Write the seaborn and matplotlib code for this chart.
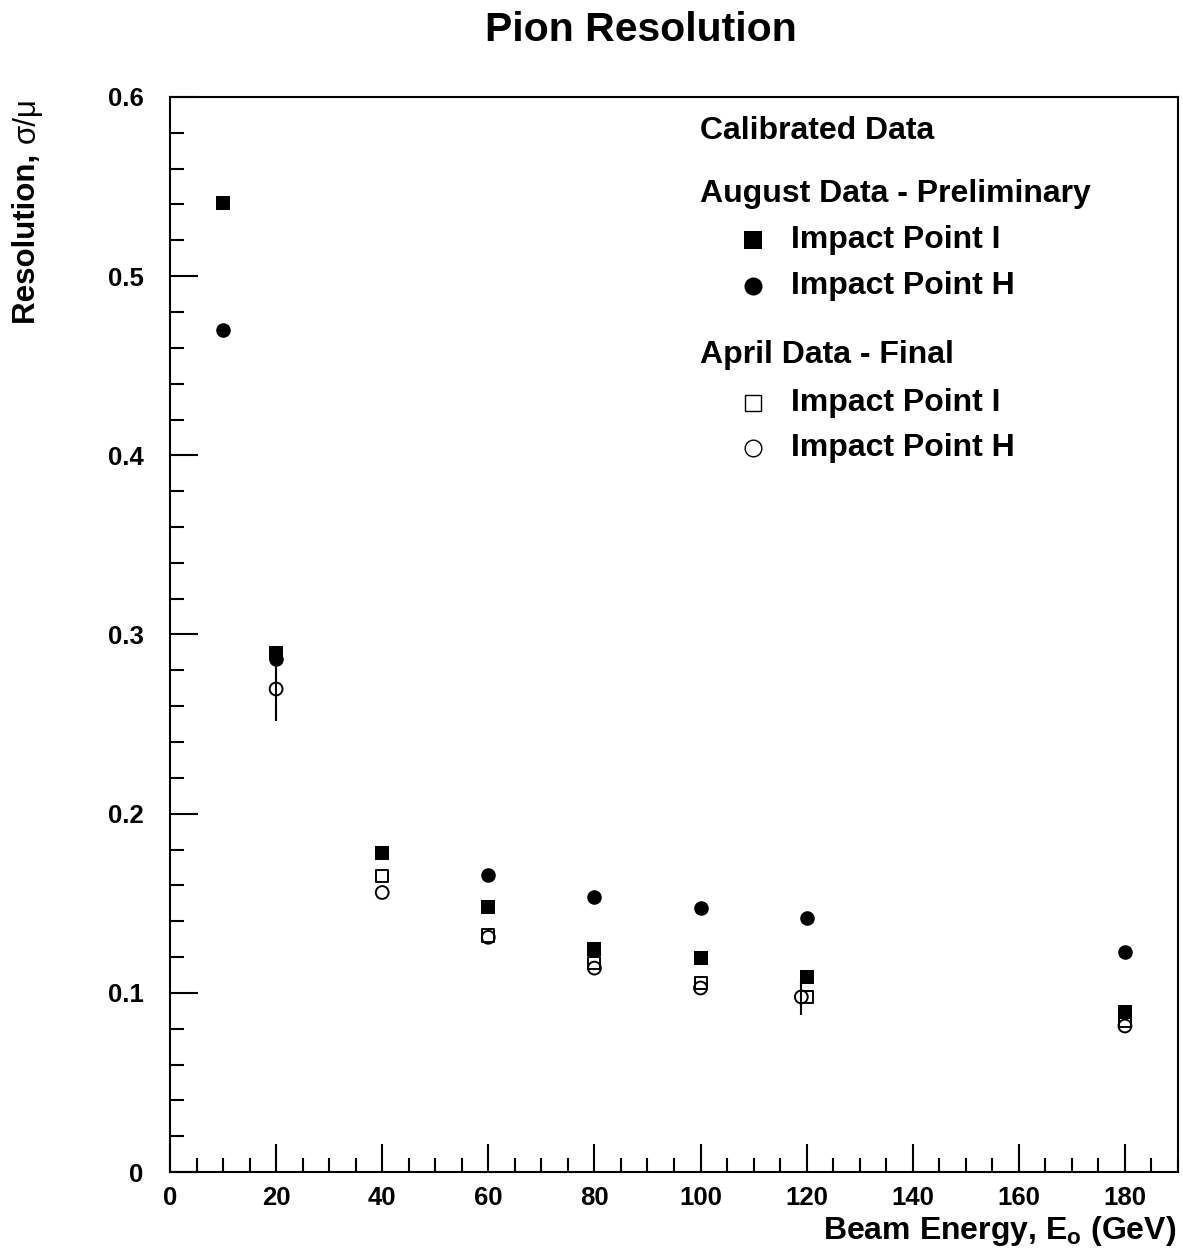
import numpy as np
import pandas as pd
import seaborn as sns
import matplotlib
matplotlib.use("Agg")
import matplotlib.pyplot as plt
from matplotlib.ticker import MultipleLocator, FuncFormatter

# ---------------- data ----------------
aug_I_energy = [10, 20, 40, 60, 80, 100, 120, 180]
aug_I_res = [0.541, 0.2895, 0.178, 0.148, 0.1245, 0.1194, 0.109, 0.0895]

aug_H_energy = [10, 20, 60, 80, 100, 120, 180]
aug_H_res = [0.470, 0.2863, 0.166, 0.1535, 0.1473, 0.1418, 0.1228]

apr_I_energy = [40, 60, 80, 100, 120, 180]
apr_I_res = [0.165, 0.132, 0.1166, 0.1055, 0.0977, 0.0845]

apr_H_energy = [20, 40, 60, 80, 100, 119, 180]
apr_H_res = [0.2696, 0.156, 0.131, 0.1138, 0.1027, 0.0977, 0.0815]
apr_H_err = [0.018, 0.0, 0.0, 0.0, 0.0, 0.010, 0.0]

title = "Pion Resolution"
x_label = r"Beam Energy, E$_\mathregular{o}$ (GeV)"
legend_headers = ["Calibrated Data", "August Data - Preliminary", "April Data - Final"]
legend_items = ["Impact Point I", "Impact Point H"]

# ---------------- style ----------------
sns.set_theme(style="ticks")
plt.rcParams.update({
    "font.family": ["Liberation Sans", "DejaVu Sans"],
    "font.weight": "bold",
    "text.color": "black",
    "mathtext.fontset": "custom",
    "mathtext.rm": "Liberation Sans:bold",
    "mathtext.bf": "Liberation Sans:bold",
    "mathtext.it": "Liberation Sans:bold",
    "axes.linewidth": 1.5,
    "axes.edgecolor": "black",
    "axes.labelcolor": "black",
    "xtick.color": "black",
    "ytick.color": "black",
    "xtick.labelcolor": "black",
    "ytick.labelcolor": "black",
})

W, H = 1183, 1258
fig = plt.figure(figsize=(W / 100, H / 100), dpi=100)
fig.patch.set_facecolor("white")

def fx(px):
    return px / W

def fy(py):
    return 1 - py / H

ax = fig.add_axes([fx(170), fy(1172), fx(1178) - fx(170), fy(97) - fy(1172)])
ax.set_facecolor("white")

# ---------------- marks ----------------
ax.errorbar(apr_H_energy, apr_H_res, yerr=apr_H_err, fmt="none",
            ecolor="black", elinewidth=1.5, capsize=0, zorder=2)

sns.scatterplot(x=aug_H_energy, y=aug_H_res, marker="o", s=110, color="black",
                edgecolor="black", linewidth=0, legend=False, ax=ax, zorder=3)
sns.scatterplot(x=aug_I_energy, y=aug_I_res, marker="s", s=100, color="black",
                edgecolor="black", linewidth=0, legend=False, ax=ax, zorder=3)
sns.scatterplot(x=apr_I_energy, y=apr_I_res, marker="s", s=75, color="black",
                facecolor="none", edgecolor="black", linewidth=1.4, legend=False,
                ax=ax, zorder=4)
sns.scatterplot(x=apr_H_energy, y=apr_H_res, marker="o", s=85, color="black",
                facecolor="none", edgecolor="black", linewidth=1.4, legend=False,
                ax=ax, zorder=4)

# ---------------- axes ----------------
ax.set_xlim(0, 190)
ax.set_ylim(0, 0.6)
ax.xaxis.set_major_locator(MultipleLocator(20))
ax.xaxis.set_minor_locator(MultipleLocator(5))
ax.yaxis.set_major_locator(MultipleLocator(0.1))
ax.yaxis.set_minor_locator(MultipleLocator(0.02))
ax.yaxis.set_major_formatter(FuncFormatter(lambda v, p: "0" if abs(v) < 1e-9 else f"{v:.1f}"))
ax.xaxis.set_major_formatter(FuncFormatter(lambda v, p: f"{v:.0f}"))
ax.tick_params(which="both", direction="in", top=False, right=False, width=1.5,
               colors="black", labelsize=18.5)
ax.tick_params(which="major", length=20)
ax.tick_params(which="minor", length=10)
ax.tick_params(axis="y", which="major", pad=19)
ax.tick_params(axis="x", which="major", pad=10)
for lab in ax.get_xticklabels() + ax.get_yticklabels():
    lab.set_fontweight("bold")
    lab.set_color("black")
for sp in ax.spines.values():
    sp.set_visible(True)
    sp.set_linewidth(1.5)
    sp.set_color("black")
ax.set_xlabel("")
ax.set_ylabel("")

# ---------------- texts ----------------
fig.text(fx(641), fy(30), title, ha="center", va="center", fontsize=29.5,
         fontweight="bold", color="black")
fig.text(fx(1176), fy(1231), x_label, ha="right", va="center", fontsize=23,
         fontweight="bold", color="black")

renderer = fig.canvas.get_renderer()
t1 = fig.text(fx(27), fy(97), "σ/μ", rotation=90, ha="center", va="top",
              fontsize=22.5, fontweight="normal", color="black")
bb = t1.get_window_extent(renderer=renderer)
fig.text(fx(27), bb.y0 / H - 0.002, "Resolution, ", rotation=90, ha="center",
         va="top", fontsize=22.5, fontweight="bold", color="black")

# legend (manual layout)
fs_leg = 23
fig.text(fx(700), fy(131), legend_headers[0], ha="left", va="center",
         fontsize=fs_leg, fontweight="bold", color="black")
fig.text(fx(700), fy(194), legend_headers[1], ha="left", va="center",
         fontsize=fs_leg, fontweight="bold", color="black")
fig.text(fx(700), fy(355), legend_headers[2], ha="left", va="center",
         fontsize=fs_leg, fontweight="bold", color="black")
item_rows = [(240, legend_items[0], "s", "black"), (286, legend_items[1], "o", "black"),
             (403, legend_items[0], "s", "none"), (448, legend_items[1], "o", "none")]
for py, txt, mk, fc in item_rows:
    fig.text(fx(791), fy(py), txt, ha="left", va="center", fontsize=fs_leg,
             fontweight="bold", color="black")
    lw = 0 if fc == "black" else 1.0
    size = 13 if fc == "black" else 12
    fig.add_artist(matplotlib.lines.Line2D([fx(753)], [fy(py)], marker=mk,
                   markersize=size, markerfacecolor=fc, markeredgecolor="black",
                   markeredgewidth=lw, linestyle="none", transform=fig.transFigure))

fig.savefig("out.png", dpi=100, facecolor="white")
